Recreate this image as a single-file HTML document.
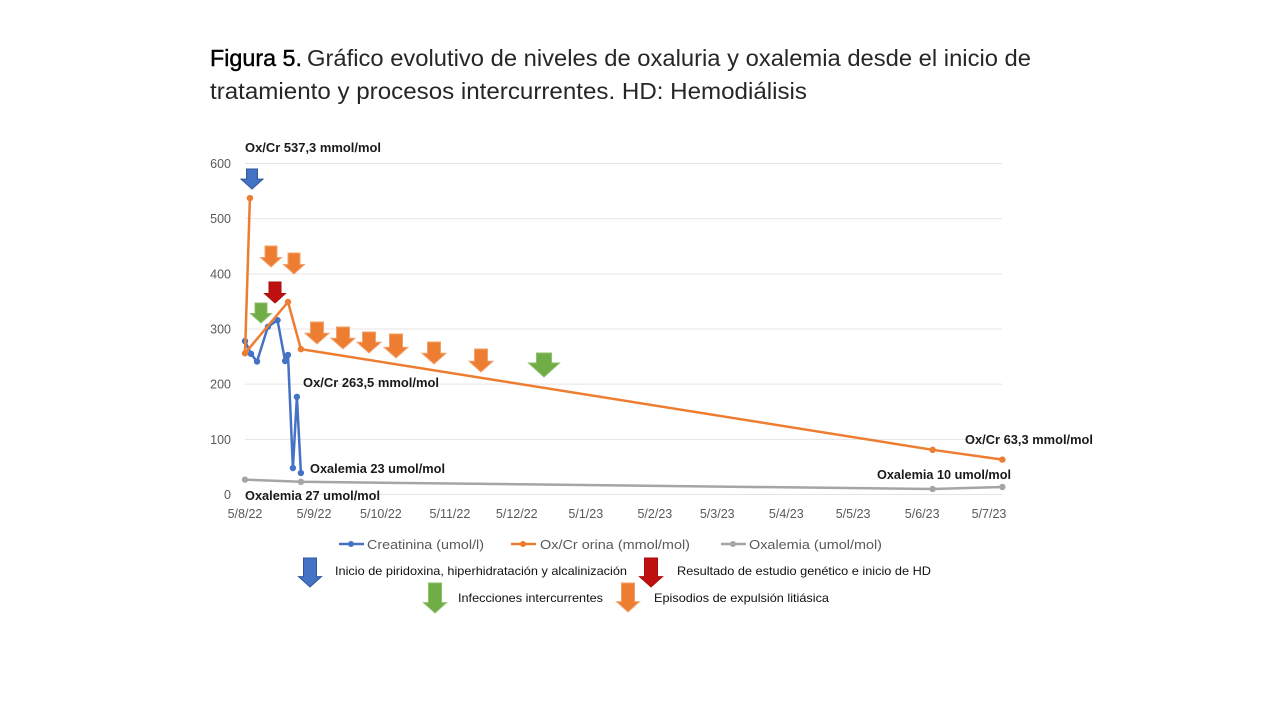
<!DOCTYPE html>
<html lang="es">
<head>
<meta charset="utf-8">
<title>Figura 5</title>
<style>
html,body{margin:0;padding:0;background:#fff;width:1280px;height:720px;overflow:hidden}
svg{display:block;font-family:"Liberation Sans",sans-serif}
.title{font-size:23px;fill:#262626}
.note{font-size:12.5px;font-weight:bold;fill:#1a1a1a}
.tick{font-size:12.5px;fill:#595959}
.leg{font-size:12.5px;fill:#595959}
.key{font-size:12px;fill:#111}
</style>
</head>
<body>
<svg id="chart" width="1280" height="720" viewBox="0 0 1280 720" xmlns="http://www.w3.org/2000/svg">
  <rect width="1280" height="720" fill="#fff"/>
  <g>
    <text class="title" x="210" y="66" textLength="92" lengthAdjust="spacingAndGlyphs" style="fill:#000;stroke:#000;stroke-width:.4">Figura 5.</text>
    <text class="title" x="307" y="66" textLength="724" lengthAdjust="spacingAndGlyphs">Gráfico evolutivo de niveles de oxaluria y oxalemia desde el inicio de</text>
    <text class="title" x="210" y="99" textLength="597" lengthAdjust="spacingAndGlyphs">tratamiento y procesos intercurrentes. HD: Hemodiálisis</text>
  </g>
  <g id="grid"></g>
  <g id="yticks"></g>
  <g id="xticks"></g>
  <g id="series"></g>
  <g id="arrows"></g>
  <g>
    <text class="note" x="245" y="152" textLength="136" lengthAdjust="spacingAndGlyphs">Ox/Cr 537,3 mmol/mol</text>
    <text class="note" x="303" y="387" textLength="136" lengthAdjust="spacingAndGlyphs">Ox/Cr 263,5 mmol/mol</text>
    <text class="note" x="310" y="473" textLength="135" lengthAdjust="spacingAndGlyphs">Oxalemia 23 umol/mol</text>
    <text class="note" x="245" y="500" textLength="135" lengthAdjust="spacingAndGlyphs">Oxalemia 27 umol/mol</text>
    <text class="note" x="965" y="444" textLength="128" lengthAdjust="spacingAndGlyphs">Ox/Cr 63,3 mmol/mol</text>
    <text class="note" x="877" y="479" textLength="134" lengthAdjust="spacingAndGlyphs">Oxalemia 10 umol/mol</text>
  </g>
  <g>
    <g>
      <line x1="339" x2="364" y1="544" y2="544" stroke="#4472c4" stroke-width="2.5"/><circle cx="351" cy="544" r="3" fill="#4472c4"/>
      <text class="leg" x="367" y="549" textLength="117" lengthAdjust="spacingAndGlyphs">Creatinina (umol/l)</text>
    </g>
    <g>
      <line x1="511" x2="536" y1="544" y2="544" stroke="#ed7d31" stroke-width="2.5"/><circle cx="523" cy="544" r="3" fill="#ed7d31"/>
      <text class="leg" x="540" y="549" textLength="150" lengthAdjust="spacingAndGlyphs">Ox/Cr orina (mmol/mol)</text>
    </g>
    <g>
      <line x1="721" x2="746" y1="544" y2="544" stroke="#a5a5a5" stroke-width="2.5"/><circle cx="733" cy="544" r="3" fill="#a5a5a5"/>
      <text class="leg" x="749" y="549" textLength="133" lengthAdjust="spacingAndGlyphs">Oxalemia (umol/mol)</text>
    </g>
  </g>
  <g>
    <text class="key" x="335" y="575" textLength="292" lengthAdjust="spacingAndGlyphs">Inicio de piridoxina, hiperhidratación y alcalinización</text>
    <text class="key" x="677" y="575" textLength="254" lengthAdjust="spacingAndGlyphs">Resultado de estudio genético e inicio de HD</text>
    <text class="key" x="458" y="602" textLength="145" lengthAdjust="spacingAndGlyphs">Infecciones intercurrentes</text>
    <text class="key" x="654" y="602" textLength="175" lengthAdjust="spacingAndGlyphs">Episodios de expulsión litiásica</text>
  </g>
</svg>
<script>
// Chart data: x values are days since 5/8/22
const yTickValues = [0, 100, 200, 300, 400, 500, 600];
const xTickDays = [0, 31, 61, 92, 122, 153, 184, 212, 243, 273, 304, 334];
const xTickLabels = ['5/8/22', '5/9/22', '5/10/22', '5/11/22', '5/12/22', '5/1/23', '5/2/23', '5/3/23', '5/4/23', '5/5/23', '5/6/23', '5/7/23'];
const creatininaDays = [0, 2.7, 5.4, 10.3, 14.6, 18, 19.3, 21.5, 23.3, 25.1];
const creatininaValues = [278, 255, 241, 304, 316, 242, 253, 48, 177, 39];
const oxCrDays = [2.2, 0, 19.3, 25.1, 308.7, 340];
const oxCrValues = [537.3, 256, 349, 263.5, 81, 63.3];
const oxalemiaDays = [0, 25.1, 308.7, 340];
const oxalemiaValues = [27, 23, 10, 13.6];

const NS = 'http://www.w3.org/2000/svg';
function xScale(day) { return 245 + day * 2.2275; }
function yScale(v) { return 494.5 - v * 0.5517; }
function make(parent, tag, attrs) {
  const el = document.createElementNS(NS, tag);
  for (const k in attrs) el.setAttribute(k, attrs[k]);
  parent.appendChild(el);
  return el;
}

const grid = document.getElementById('grid');
const yticks = document.getElementById('yticks');
yTickValues.forEach(function (v) {
  const ln = make(grid, 'line', { x1: 245, x2: 1002, y1: yScale(v), y2: yScale(v), stroke: '#e4e4e4', 'stroke-width': 1 });
  
  
  const t = make(yticks, 'text', { x: 231, y: yScale(v) + 4.5, 'text-anchor': 'end', 'class': 'tick' });
  
  
  t.textContent = v;
});

const xticks = document.getElementById('xticks');
xTickDays.forEach(function (d, i) {
  const t = make(xticks, 'text', { x: xScale(d), y: 518, 'text-anchor': 'middle', 'class': 'tick' });
  
  
  t.textContent = xTickLabels[i];
});

function drawSeries(days, values, color, name) {
  const group = make(document.getElementById('series'), 'g', {});
  
  
  const pts = days.map(function (d, i) { return xScale(d).toFixed(1) + ',' + yScale(values[i]).toFixed(1); }).join(' ');
  const line = make(group, 'polyline', { points: pts, fill: 'none', stroke: color, 'stroke-width': 2.5, 'stroke-linejoin': 'round', 'stroke-linecap': 'round' });
  
  
  days.forEach(function (d, i) {
    const c = make(group, 'circle', { cx: xScale(d), cy: yScale(values[i]), r: 3.2, fill: color });
    
    
  });
}
drawSeries(oxalemiaDays, oxalemiaValues, '#a5a5a5', 'oxalemia-series');
drawSeries(creatininaDays, creatininaValues, '#4472c4', 'creatinina-series');
drawSeries(oxCrDays, oxCrValues, '#ed7d31', 'ox-cr-series');

// Event marker arrows (illustrative annotations, not data marks)
function arrow(cx, top, tip, w, sw, fill, stroke, name) {
  const head = tip - (w / 2) * 0.9;
  const d = [[cx - sw / 2, top], [cx + sw / 2, top], [cx + sw / 2, head], [cx + w / 2, head], [cx, tip], [cx - w / 2, head], [cx - sw / 2, head]]
    .map(function (p) { return p.join(','); }).join(' ');
  const a = make(document.getElementById('arrows'), 'polygon', { points: d, fill: fill, stroke: stroke, 'stroke-width': 1 });
  
  
}
const BLUE = ['#4472c4', '#2f5597'], ORANGE = ['#ed7d31', '#f4a26b'], GREEN = ['#70ad47', '#8cc168'], RED = ['#c00f0f', '#a80d0d'];
arrow(252, 169, 189, 22, 11, BLUE[0], BLUE[1], 'arrow-inicio-piridoxina');
arrow(271, 246, 267, 21, 12, ORANGE[0], ORANGE[1], 'arrow-expulsion-1');
arrow(294, 253, 274, 21, 12, ORANGE[0], ORANGE[1], 'arrow-expulsion-2');
arrow(275, 282, 303, 21, 12, RED[0], RED[1], 'arrow-resultado-genetico');
arrow(261, 303, 323, 21, 12, GREEN[0], GREEN[1], 'arrow-infeccion-1');
arrow(317, 322, 344, 24, 13, ORANGE[0], ORANGE[1], 'arrow-expulsion-3');
arrow(343, 327, 349, 24, 13, ORANGE[0], ORANGE[1], 'arrow-expulsion-4');
arrow(369, 332, 353, 24, 13, ORANGE[0], ORANGE[1], 'arrow-expulsion-5');
arrow(396, 334, 358, 24, 13, ORANGE[0], ORANGE[1], 'arrow-expulsion-6');
arrow(434, 342, 364, 24, 13, ORANGE[0], ORANGE[1], 'arrow-expulsion-7');
arrow(481, 349, 372, 24, 13, ORANGE[0], ORANGE[1], 'arrow-expulsion-8');
arrow(544, 353, 377, 31, 15, GREEN[0], GREEN[1], 'arrow-infeccion-2');
arrow(310, 558, 587, 23, 13, BLUE[0], BLUE[1], 'key-arrow-blue');
arrow(651, 558, 587, 23, 13, RED[0], RED[1], 'key-arrow-red');
arrow(435, 583, 613, 23, 13, GREEN[0], GREEN[1], 'key-arrow-green');
arrow(628, 583, 612, 23, 13, ORANGE[0], ORANGE[1], 'key-arrow-orange');
</script>
</body>
</html>
